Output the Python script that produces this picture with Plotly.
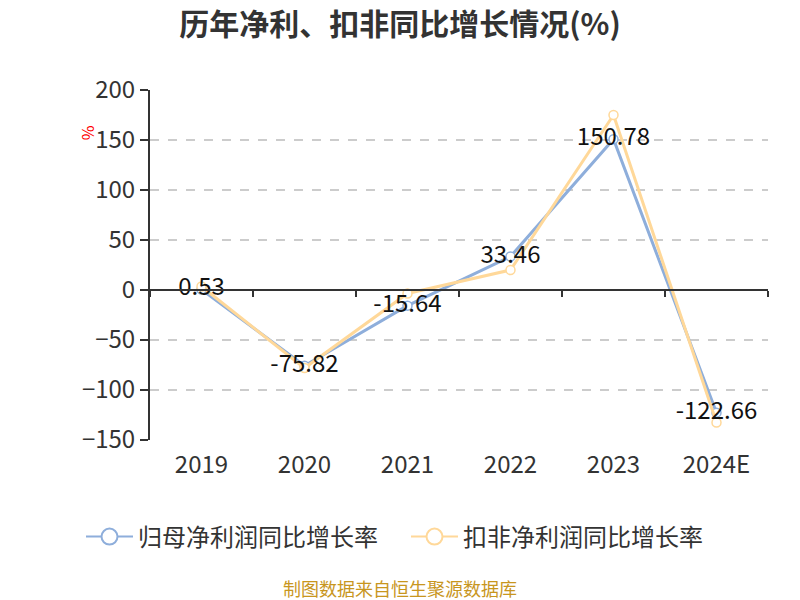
import plotly.graph_objects as go

years = ["2019", "2020", "2021", "2022", "2023", "2024E"]
net_profit_growth = [0.53, -75.82, -15.64, 33.46, 150.78, -122.66]
deducted_growth = [3.5, -78.0, -3.5, 20.0, 175.0, -132.5]
y_ticks = [-150, -100, -50, 0, 50, 100, 150, 200]

FONT = "Noto Sans CJK SC, Noto Sans, sans-serif"
BLUE = "#8eaedb"
ORANGE = "#ffd899"

fig = go.Figure()
fig.add_trace(go.Scatter(
    x=years, y=net_profit_growth, name="归母净利润同比增长率",
    mode="lines+markers", showlegend=False,
    line=dict(color=BLUE, width=3),
    marker=dict(symbol="circle", size=9, color="white", line=dict(color=BLUE, width=1.5)),
))
fig.add_trace(go.Scatter(
    x=years, y=deducted_growth, name="扣非净利润同比增长率",
    mode="lines+markers", showlegend=False,
    line=dict(color=ORANGE, width=3),
    marker=dict(symbol="circle", size=9, color="white", line=dict(color=ORANGE, width=1.5)),
))
fig.add_trace(go.Scatter(
    x=years, y=net_profit_growth, mode="text",
    text=[f"{v:.2f}" for v in net_profit_growth],
    textposition="middle center",
    textfont=dict(family=FONT, size=24, color="#111"),
    showlegend=False, hoverinfo="skip",
))
# legend entries with larger symbols
for name, col in [("归母净利润同比增长率", BLUE), ("扣非净利润同比增长率", ORANGE)]:
    fig.add_trace(go.Scatter(
        x=[None], y=[None], name=name, mode="lines+markers",
        line=dict(color=col, width=2),
        marker=dict(symbol="circle", size=20, color="white", line=dict(color=col, width=2)),
    ))
# invisible trace on the zero-line axis
fig.add_trace(go.Scatter(
    x=years, y=[0] * len(years), xaxis="x2", mode="lines",
    line=dict(width=0), opacity=0, showlegend=False, hoverinfo="skip",
))

fig.update_layout(
    width=800, height=600,
    paper_bgcolor="white", plot_bgcolor="white",
    margin=dict(l=150, r=32, t=90, b=160),
    font=dict(family=FONT, color="#333"),
    title=dict(
        text="<b>历年净利、扣非同比增长情况(%)</b>",
        x=0.5, xanchor="center", y=1 - 24 / 600, yanchor="middle",
        font=dict(family=FONT, size=30, color="#333"),
    ),
    xaxis=dict(
        type="category", categoryarray=years,
        showline=False, showgrid=False, ticks="", zeroline=False,
        tickfont=dict(family=FONT, size=24, color="#333"),
        ticklabelstandoff=8,
        range=[-0.5, 5.5],
    ),
    xaxis2=dict(
        type="category", categoryarray=years, overlaying="x",
        anchor="free", position=150 / 350, side="bottom",
        showline=True, linecolor="#333", linewidth=2,
        ticks="outside", ticklen=6, tickwidth=2, tickcolor="#333",
        tickson="boundaries", showticklabels=False, showgrid=False,
        range=[-0.5, 5.5],
    ),
    yaxis=dict(
        range=[-150, 200], tickvals=y_ticks,
        showline=True, linecolor="#333", linewidth=2,
        ticks="outside", ticklen=8, tickwidth=2, tickcolor="#333",
        showgrid=True, gridcolor="#cccccc", griddash="dash", gridwidth=1.5,
        zeroline=False,
        tickfont=dict(family=FONT, size=24, color="#333"),
    ),
    legend=dict(
        orientation="h", x=(81 - 150) / 618, xanchor="left", y=-97 / 350, yanchor="middle",
        font=dict(family=FONT, size=24, color="#333"),
        itemwidth=47, entrywidth=263, entrywidthmode="pixels",
    ),
    annotations=[
        dict(text="%", xref="paper", yref="paper", x=-75 / 618, y=(440 - 123) / 350,
             showarrow=False, textangle=90, font=dict(family=FONT, size=16, color="red")),
        dict(text="制图数据来自恒生聚源数据库", xref="paper", yref="paper",
             x=(400 - 150) / 618, y=-148 / 350, xanchor="center", yanchor="middle", showarrow=False,
             font=dict(family=FONT, size=18, color="#c8961e")),
    ],
)

fig.write_html("out.html", config={"displayModeBar": False},
               post_script="document.body.style.margin='0px';")
